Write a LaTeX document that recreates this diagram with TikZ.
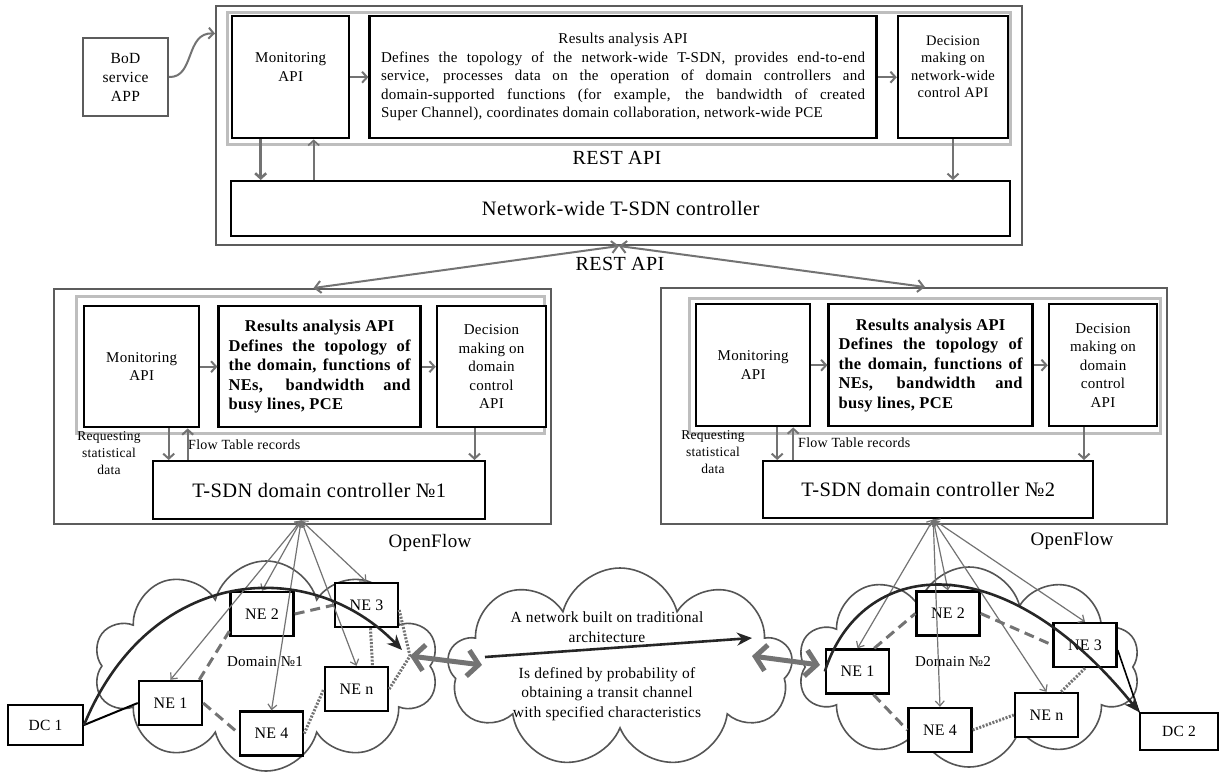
\documentclass[tikz,border=0pt]{standalone}
\usepackage{fontspec}
\setmainfont{Liberation Serif}[LetterSpace=2]
\usepackage{tikz}
\usetikzlibrary{arrows.meta,positioning,shapes.symbols}
\definecolor{edgeG}{HTML}{5C5C5C}
\definecolor{frameG}{HTML}{BEBEBE}
\definecolor{lineG}{HTML}{737373}
\definecolor{cloudG}{HTML}{555555}

\begin{document}
\begin{tikzpicture}[
    x=1pt, y=-1pt,
    api/.style={draw=black, line width=2.4pt, fill=white, align=center, inner sep=3pt,
                font=\fontsize{15}{18.5}\selectfont},
    shell/.style={draw=edgeG, line width=2pt, anchor=north west, inner sep=0pt},
    apiframe/.style={draw=frameG, line width=3pt, anchor=north west, inner sep=0pt},
    ctrl/.style={draw=black, line width=2.4pt, fill=white, anchor=north west,
                 font=\fontsize{20.5}{24}\selectfont},
    ne/.style={draw=black, line width=2.4pt, fill=white, minimum width=63pt,
               minimum height=44pt, inner sep=0pt, font=\fontsize{16}{18}\selectfont},
    dc/.style={draw=black, line width=2pt, fill=white, inner sep=0pt, align=center,
               font=\fontsize{15.5}{19}\selectfont},
    cld/.style={cloud, cloud ignores aspect, draw=cloudG, line width=1.6pt},
    lbl/.style={align=center, inner sep=0pt},
    arrow/.style={-{Straight Barb[length=5pt,width=11pt]}, line width=2pt, draw=lineG},
    rest/.style={{Straight Barb[length=6pt,width=12pt]}-{Straight Barb[length=6pt,width=12pt]},
                 line width=2pt, draw=lineG},
    ofl/.style={{Straight Barb[length=5pt,width=9pt]}-{Straight Barb[length=5pt,width=9pt]},
                line width=1.2pt, draw=lineG},
    wide/.style={{Straight Barb[length=11pt,width=26pt]}-{Straight Barb[length=11pt,width=26pt]},
                 line width=5pt, draw=lineG},
    route/.style={-{Stealth[length=15pt,width=13pt]}, line width=2.6pt, draw=black!85},
    dlink/.style={draw=lineG, line width=3pt, dash pattern=on 10pt off 6pt},
    plink/.style={draw=lineG, line width=3pt, dash pattern=on 2pt off 1.5pt}
]
\useasboundingbox (0,0) rectangle (1220,774);

% clouds
\node[cld, cloud puffs=10, minimum width=345pt, minimum height=210pt] (cl1) at (266,666) {};
\node[cld, cloud puffs=9, minimum width=345pt, minimum height=200pt] (cl0) at (620,668) {};
\node[cld, cloud puffs=10, minimum width=342pt, minimum height=200pt] (cl2) at (969,667) {};

% network-wide level
\node[dc, draw=edgeG, minimum width=85pt, minimum height=78pt] (bod) at (125.5,77) {BoD\\service\\APP};
\node[shell, minimum width=806pt, minimum height=239pt] (top) at (215,5) {};
\node[apiframe, minimum width=783pt, minimum height=132pt] (fr0) at (226,11) {};
\node[api, anchor=north west, minimum width=117pt, minimum height=122pt] (mon0) at (231,15) {Monitoring\\API\\[2pt]};
\node[api, right=18pt of mon0, minimum width=507pt, minimum height=122pt, text width=484pt,
      align=justify] (res0) {\hspace*{\fill}Results analysis API\hspace*{\fill}\linebreak
  Defines the topology of the network-wide T-SDN, provides end-to-end\linebreak
  service, processes data on the operation of domain controllers and\linebreak
  domain-supported functions (for example, the bandwidth of created\linebreak
  Super Channel), coordinates domain collaboration, network-wide PCE};
\node[api, right=19pt of res0, minimum width=110pt, minimum height=122pt,
      font=\fontsize{14.5}{17.5}\selectfont] (dec0) {Decision\\making on\\network-wide\\control API\\[4pt]};
\node[lbl, font=\fontsize{20}{24}\selectfont] (rest0) at (617,158) {REST API};
\node[ctrl, minimum width=779pt, minimum height=55pt] (ctl0) at (230,180) {Network-wide T-SDN controller};

\draw[arrow] (bod.east) .. controls (195,78) and (185,32) .. ([yshift=92pt]top.west);
\draw[arrow] (mon0) -- (res0);
\draw[arrow] (res0) -- (dec0);
\draw[arrow, line width=2.6pt] ([xshift=-30pt]mon0.south) -- ([xshift=-30pt]mon0.south |- ctl0.north);
\draw[arrow, line width=1.6pt] ([xshift=23pt]mon0.south |- ctl0.north) -- ([xshift=23pt]mon0.south);
\draw[arrow] (dec0.south) -- (dec0.south |- ctl0.north);

\node[lbl, font=\fontsize{20}{24}\selectfont] (rest1) at (620,264) {REST API};

% domain 1
\node[shell, minimum width=497pt, minimum height=235pt] (dom1) at (53,288) {};
\node[apiframe, minimum width=468pt, minimum height=137pt] (fr1) at (75,295) {};
\node[api, anchor=north west, minimum width=115pt, minimum height=121pt] (mon1) at (83,305) {Monitoring\\API};
\node[api, right=17pt of mon1, minimum width=202pt, minimum height=121pt, text width=182pt,
      align=justify, font=\fontsize{16.5}{19.5}\selectfont\bfseries] (res1) {\hspace*{\fill}Results analysis API\hspace*{\fill}\linebreak
  Defines the topology of\linebreak the domain, functions of\linebreak NEs, bandwidth and\linebreak busy lines, PCE};
\node[api, right=14pt of res1, minimum width=109pt, minimum height=121pt] (dec1) {Decision\\making on\\domain\\control\\API};
\node[ctrl, minimum width=332pt, minimum height=58pt] (ctl1) at (152,460) {T-SDN domain controller №1};
\node[lbl, font=\fontsize{13.5}{17}\selectfont] (req1) at (109,453) {Requesting\\statistical\\data};
\node[lbl, anchor=west, font=\fontsize{14}{17}\selectfont] (flow1) at (188,445) {Flow Table records};

\draw[arrow] (mon1) -- (res1);
\draw[arrow] (res1) -- (dec1);
\draw[arrow] ([xshift=27pt]mon1.south) -- ([xshift=27pt]mon1.south |- ctl1.north);
\draw[arrow] ([xshift=46pt]mon1.south |- ctl1.north) -- ([xshift=46pt]mon1.south);
\draw[arrow] ([xshift=-17pt]dec1.south) -- ([xshift=-17pt]dec1.south |- ctl1.north);

% domain 2
\node[shell, minimum width=506pt, minimum height=236pt] (dom2) at (660,287) {};
\node[apiframe, minimum width=471pt, minimum height=135pt] (fr2) at (688,297) {};
\node[api, anchor=north west, minimum width=114pt, minimum height=122pt] (mon2) at (695,303) {Monitoring\\API};
\node[api, right=16pt of mon2, minimum width=204pt, minimum height=122pt, text width=184pt,
      align=justify, font=\fontsize{16.5}{19.5}\selectfont\bfseries] (res2) {\hspace*{\fill}Results analysis API\hspace*{\fill}\linebreak
  Defines the topology of\linebreak the domain, functions of\linebreak NEs, bandwidth and\linebreak busy lines, PCE};
\node[api, right=14pt of res2, minimum width=108pt, minimum height=122pt] (dec2) {Decision\\making on\\domain\\control\\API};
\node[ctrl, minimum width=330pt, minimum height=57pt] (ctl2) at (762,460) {T-SDN domain controller №2};
\node[lbl, font=\fontsize{13.5}{17}\selectfont] (req2) at (713,452) {Requesting\\statistical\\data};
\node[lbl, anchor=west, font=\fontsize{14}{17}\selectfont] (flow2) at (798,443) {Flow Table records};

\draw[arrow] (mon2) -- (res2);
\draw[arrow] (res2) -- (dec2);
\draw[arrow] ([xshift=24pt]mon2.south) -- ([xshift=24pt]mon2.south |- ctl2.north);
\draw[arrow] ([xshift=40pt]mon2.south |- ctl2.north) -- ([xshift=40pt]mon2.south);
\draw[arrow] ([xshift=-19pt]dec2.south) -- ([xshift=-19pt]dec2.south |- ctl2.north);

\draw[rest] (top.south) -- ([xshift=11pt]dom1.north);
\draw[rest] (top.south) -- ([xshift=11pt]dom2.north);

% domain 1 network
\node[lbl, font=\fontsize{19}{22}\selectfont] (of1) at (430,543) {OpenFlow};
\node[lbl, font=\fontsize{15}{18}\selectfont] (lab1) at (265,662) {Domain №1};
\node[dc, minimum width=75pt, minimum height=40pt] (dc1) at (45.5,725) {DC 1};
\node[ne] (n11) at (170.5,703) {NE 1};
\node[ne] (n12) at (262,614) {NE 2};
\node[ne] (n13) at (366.5,605) {NE 3};
\node[ne] (n14) at (271.5,733.5) {NE 4};
\node[ne] (n1n) at (356.5,689) {NE n};
\coordinate (hub1) at ([xshift=-18pt]ctl1.south);

\draw[ofl] (hub1) -- (n11.north);
\draw[ofl] (hub1) -- (n12.north);
\draw[ofl] (hub1) -- (n13.north);
\draw[ofl] (hub1) -- (n14.north);
\draw[ofl] (hub1) -- (n1n.north);
\draw[dlink] ([xshift=-4pt]n11.north east) -- ([yshift=6pt]n12.south west);
\draw[dlink] (n12.east) -- (n13.west);
\draw[dlink] (n11.east) -- (n14.west);
\draw[plink] (n14.east) -- (n1n.west);
\draw[plink] ([xshift=4pt]n13.south) -- ([xshift=16pt]n1n.north);

% transit network
\coordinate (w1a) at (410,656);
\coordinate (w1b) at (482,665);
\coordinate (t0a) at (485,657);
\coordinate (t0b) at (752,638);
\coordinate (w2a) at (752,656);
\coordinate (w2b) at (820,665);
\coordinate (r1end) at (402,650);
\node[lbl, font=\fontsize{15.5}{19.5}\selectfont] (txt0a) at (607,627) {A network built on traditional\\architecture};
\node[lbl, font=\fontsize{15.5}{19.5}\selectfont] (txt0b) at (607,694) {Is defined by probability of\\obtaining a transit channel\\with specified characteristics};

\draw[plink] ([yshift=-5pt]n13.east) -- (w1a);
\draw[plink] (n1n.east) -- (w1a);
\draw[wide] (w1a) -- (w1b);
\draw[route] (t0a) -- (t0b);
\draw[wide] (w2a) -- (w2b);
\draw[line width=2pt, draw=black] (dc1.east) -- (n11.west);
\draw[route] (dc1.east) .. controls (150,565) and (310,555) .. (r1end);

% domain 2 network
\node[lbl, font=\fontsize{19}{22}\selectfont] (of2) at (1072,541) {OpenFlow};
\node[lbl, font=\fontsize{15}{18}\selectfont] (lab2) at (953,662) {Domain №2};
\node[dc, minimum width=78pt, minimum height=37pt] (dc2) at (1179,731.5) {DC 2};
\node[ne] (n21) at (857.5,671.5) {NE 1};
\node[ne] (n22) at (948,613.5) {NE 2};
\node[ne] (n23) at (1085,645) {NE 3};
\node[ne] (n24) at (940,730) {NE 4};
\node[ne] (n2n) at (1046.5,715) {NE n};
\coordinate (hub2) at ([xshift=5pt]ctl2.south);

\draw[ofl] (hub2) -- (n21.north);
\draw[ofl] (hub2) -- (n22.north);
\draw[ofl] (hub2) -- (n23.north);
\draw[ofl] (hub2) -- (n24.north);
\draw[ofl] (hub2) -- (n2n.north);
\draw[dlink] ([xshift=-16pt]n21.north east) -- (n22.west);
\draw[dlink] (n22.east) -- (n23.west);
\draw[dlink] ([xshift=16pt]n21.south) -- (n24.west);
\draw[plink] (n24.east) -- (n2n.west);
\draw[plink] ([xshift=-18pt]n2n.north east) -- (n23.south);
\draw[line width=1.6pt, draw=black] ([yshift=-5pt]n23.east) -- (dc2.north west);
\draw[route] (n21.west) .. controls (860,560) and (1000,540) .. (dc2.north west);
\end{tikzpicture}
\end{document}
